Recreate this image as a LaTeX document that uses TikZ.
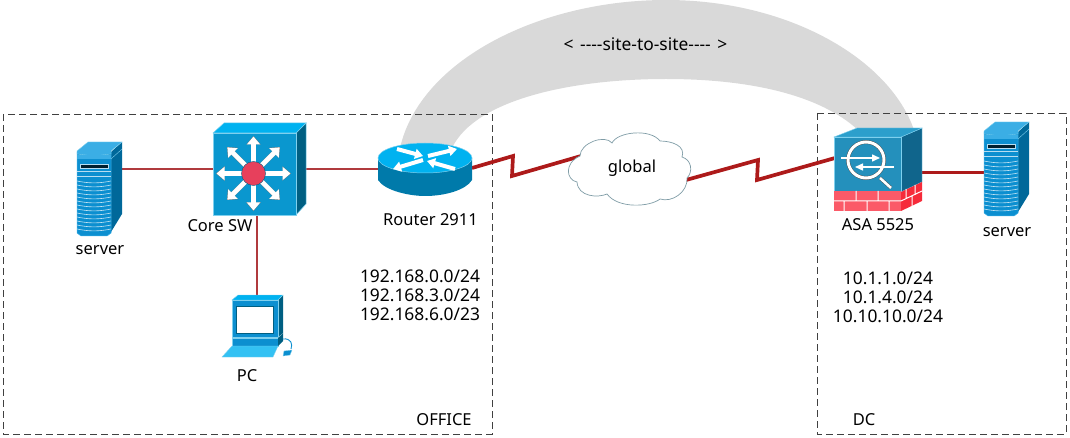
\documentclass[tikz,border=0pt]{standalone}
\usepackage{fontspec}
\setmainfont{Noto Sans}
\usetikzlibrary{arrows.meta}
\definecolor{tfront}{HTML}{0A97CF}
\definecolor{ttop}{HTML}{00B2F0}
\definecolor{tside}{HTML}{005F82}
\definecolor{tedge}{HTML}{7FD0EE}
\definecolor{rtbody}{HTML}{007AAA}
\definecolor{swhub}{HTML}{E7405C}
\definecolor{asafront}{HTML}{2490BC}
\definecolor{asatop}{HTML}{2C9FCC}
\definecolor{asaside}{HTML}{10658C}
\definecolor{brickred}{HTML}{FB5A68}
\definecolor{brickdark}{HTML}{F62B3A}
\definecolor{linkred}{HTML}{AD1A1A}
\definecolor{lanred}{HTML}{B03A3E}
\definecolor{tunnel}{HTML}{D9D9D9}
\definecolor{srvlight}{HTML}{3BAEE5}
\definecolor{srvfront}{HTML}{0C8FD0}
\definecolor{srvside}{HTML}{00689A}
\definecolor{cloudedge}{HTML}{7F9CA6}
\tikzset{
 x=1pt,y=-1pt,
 lbl/.style={font=\fontsize{16.5}{19}\selectfont,text=black,inner sep=0pt,align=center},
 lblwide/.style={font=\fontsize{17.4}{19}\selectfont,text=black,inner sep=0pt,align=center},
 zone/.style={draw=black!75,dash pattern=on 7pt off 4pt,line width=0.9pt},
 lan/.style={draw=lanred,line width=1.3pt},
 wan/.style={draw=linkred,line width=3.7pt,line join=miter},
 devarrow/.style={draw=white,line width=4.6pt,-{Triangle[width=13pt,length=8pt,fill=white]}},
 devshadow/.style={draw=black!55,line width=5.2pt,-{Triangle[width=14pt,length=8.5pt]}},
 rtarrow/.style={draw=white,line width=4pt,-{Triangle[width=10pt,length=8pt]}},
}
\newcommand{\servericon}[2]{%
 \begin{scope}[shift={(#1,#2)}]
  \fill[srvside] (34,10) -- (45,0) -- (45,72) -- (34,90) -- cycle;
  \fill[srvfront,draw=srvlight,line width=.5pt] (0,10) -- (34,10) -- (34,91) -- (30,94) -- (4,94) -- (0,91) -- cycle;
  \fill[srvlight,draw=tedge,line width=.4pt] (0,9) -- (11,0) -- (45,0) -- (34,9) -- (34,12) -- (17,14) -- (0,12) -- cycle;
  \draw[tedge,line width=.4pt] (34,17) -- (45,7);
  \fill[srvlight] (0,13) -- (34,13) -- (34,17) -- (0,17) -- cycle;
  \fill[black!70!srvside,draw=white!70!srvfront,line width=.5pt] (3,22) rectangle (31,26);
  \draw[white!70!srvfront,line width=.5pt] (0,29) -- (34,29) (0,34) -- (34,34);
  \foreach \k in {0,...,12}{\draw[white!75!srvfront,line width=.6pt] (0,39+4*\k) .. controls (12,41.5+4*\k) and (22,41.5+4*\k) .. (34,39+4*\k);}
 \end{scope}}
\begin{document}
\begin{tikzpicture}
\useasboundingbox (0,0) rectangle (1070,438);
% tunnel
\fill[tunnel] (400,148) .. controls (420,60) and (540,0) .. (666,0) .. controls (790,0) and (890,60) .. (914,130)
 -- (858,130) .. controls (820,95) and (750,79) .. (666,79) .. controls (570,79) and (475,100) .. (452,148) -- cycle;
% zones
\draw[zone] (3,114) rectangle (492,434);
\draw[zone] (817,113) rectangle (1066,434);
% connector ends
\coordinate (srvL) at (122,169);
\coordinate (swL) at (213,169);
\coordinate (swR) at (305,169);
\coordinate (rtL) at (379,169);
\coordinate (rtR) at (472,168);
\coordinate (swB) at (257,214);
\coordinate (pcT) at (257,296);
\coordinate (cloudL) at (581,156);
\coordinate (cloudR) at (686,180);
\coordinate (asaL) at (835,158);
\coordinate (asaR) at (922,172.5);
\coordinate (srvR) at (984,172.5);
\coordinate (z1) at (513,156);
\coordinate (z2) at (512,176);
\coordinate (z3) at (758,160);
\coordinate (z4) at (757,180);
\draw[lan] (srvL) -- (swL);
\draw[lan] (swR) -- (rtL);
\draw[lan] (swB) -- (pcT);
\draw[wan] (rtR) -- (z1) -- (z2) -- (cloudL);
\draw[wan] (cloudR) -- (z3) -- (z4) -- (asaL);
\draw[wan] (asaR) -- (srvR);
% left server
\servericon{77}{142}
% core switch
\fill[tside,draw=tedge,line width=.5pt] (296,133) -- (306,123) -- (306,204) -- (296,215) -- cycle;
\fill[ttop,draw=tedge,line width=.5pt] (213,133) -- (224,123) -- (306,123) -- (296,133) -- cycle;
\fill[tfront,draw=tedge,line width=.5pt] (213,133) rectangle (296,215);
\begin{scope}[shift={(253.5,173.5)}]
 \foreach \a in {0,45,...,315}{\draw[devshadow,rotate=\a] (8,0) -- (37.5,0);}
 \foreach \a in {0,45,...,315}{\draw[devarrow,rotate=\a] (8,0) -- (37,0);}
 \fill[swhub,draw=tside,line width=.4pt] (0,0) circle (12pt);
\end{scope}
% router
\fill[rtbody] (378,158) -- (378,180) .. controls (385,191) and (410,196) .. (425,196) .. controls (445,196) and (466,190) .. (472,180) -- (472,158) -- cycle;
\fill[ttop,draw=tedge,line width=.5pt] (425,158) ellipse [x radius=47pt,y radius=15pt];
\begin{scope}[shift={(425,159)}]
 \draw[rtarrow] (-28,-10) -- (-2,-3);
 \draw[rtarrow] (3,-3) -- (32,-10);
 \draw[rtarrow] (-2,1) -- (-32,10);
 \draw[rtarrow] (30,10) -- (2,2);
\end{scope}
% PC
\fill[tside] (278,300) -- (283,295) -- (283,333) -- (278,337) -- cycle;
\fill[ttop,draw=tedge,line width=.4pt] (232,300) -- (238,295) -- (283,295) -- (278,300) -- cycle;
\fill[srvfront,draw=tedge,line width=.4pt] (232,300) rectangle (278,337);
\fill[white,draw=tside,line width=.7pt] (236,306) rectangle (273,333);
\fill[srvfront,draw=tedge,line width=.4pt] (232,338) rectangle (278,346);
\fill[tside] (278,338) -- (283,333) -- (283,341) -- (278,346) -- cycle;
\fill[ttop!80!white,draw=tedge,line width=.4pt] (222,357) -- (232,346) -- (278,346) -- (273,357) -- cycle;
\draw[srvfront,line width=.9pt] (283,339) .. controls (291,338) and (293,344) .. (291,349);
\fill[srvfront,draw=tedge,line width=.3pt] (284,351) -- (292,350) -- (290,355) -- (283,356) -- cycle;
% cloud
\path[draw=cloudedge,fill=white,line width=.7pt]
 (580,156) .. controls (580,143) and (605,134) .. (612,143)
 .. controls (617,132) and (650,128) .. (660,141)
 .. controls (672,141) and (686,146) .. (682,157)
 .. controls (692,160) and (693,172) .. (687,178)
 .. controls (688,192) and (672,203) .. (660,199)
 .. controls (650,207) and (618,209) .. (607,194)
 .. controls (598,198) and (578,197) .. (577,182)
 .. controls (566,180) and (564,163) .. (580,156) -- cycle;
% ASA
\fill[asaside,draw=tedge,line width=.4pt] (901,137) -- (922,128) -- (922,182) -- (901,192) -- cycle;
\fill[asatop,draw=tedge,line width=.4pt] (834,137) -- (857,128) -- (922,128) -- (901,137) -- cycle;
\fill[asafront,draw=tedge,line width=.4pt] (834,137) rectangle (901,191);
\fill[brickred] (834,191) rectangle (901,211);
\fill[brickdark] (901,192) -- (922,182) -- (922,201) -- (901,211) -- cycle;
\draw[white,line width=1pt] (834,201) -- (901,201) (901,201) -- (922,191)
 (856,191) -- (856,201) (878,191) -- (878,201)
 (844,201) -- (844,211) (867,201) -- (867,211) (889,201) -- (889,211)
 (906,189) -- (906,199) (915,185) -- (915,195) (912,196) -- (912,206);
\begin{scope}[shift={(866,160)}]
 \draw[black!70,line width=3.8pt] (0,0) circle (18pt);
 \draw[white,line width=3pt] (0,0) circle (18pt);
 \draw[black!70,line width=3.4pt] (14,18) -- (25,28);
 \draw[white,line width=2.6pt] (14,18) -- (25,28);
 \draw[white,line width=1.5pt,-{Triangle[width=7pt,length=8pt]}] (-25,-2) -- (14,-2);
 \draw[white,line width=1.5pt,-{Triangle[width=7pt,length=8pt]}] (28,7) -- (-11,7);
\end{scope}
% right server
\servericon{984}{122}
% labels
\node[lbl] (l1) at (100,250) {server};
\node[lbl] (l2) at (220,226) {Core SW};
\node[lbl] (l3) at (430.5,220) {Router 2911};
\node[lblwide] (l4) at (420,295) {192.168.0.0/24\\192.168.3.0/24\\192.168.6.0/23};
\node[lbl] (l5) at (247,376) {PC};
\node[lbl] (l6) at (444,420) {OFFICE};
\node[lbl] (l7) at (632,168) {global};
\node[lbl,font=\fontsize{17.4}{19}\selectfont] (l8) at (645.5,44) {<\hspace{2pt} -{}-{}-{}-site-to-site-{}-{}-{}- \hspace{2pt}>};
\node[lbl] (l9) at (878,225) {ASA 5525};
\node[lbl] (l10) at (1007,232) {server};
\node[lblwide] (l11) at (888,297.5) {10.1.1.0/24\\10.1.4.0/24\\10.10.10.0/24};
\node[lbl] (l12) at (864,420) {DC};
\end{tikzpicture}
\end{document}
